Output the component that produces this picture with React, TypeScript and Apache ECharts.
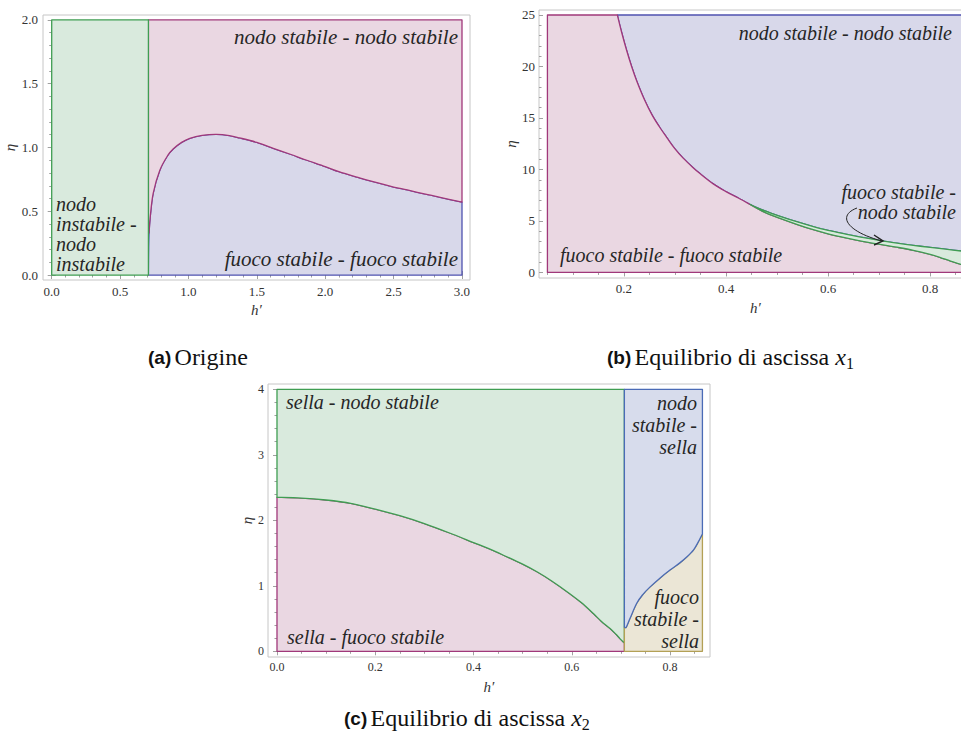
import React, { useEffect, useRef } from "react";
import * as echarts from "echarts";

// ---------- (a) Origine ----------
const H_CRIT = 0.7071;
const A_X_MAX = 3;
const A_Y_MAX = 2;
const A_curveX = [0.7071, 0.709, 0.712, 0.72, 0.742, 0.79, 0.85, 0.89, 0.95, 1.01, 1.1, 1.205, 1.3, 1.375, 1.5, 1.62, 1.75, 1.86, 2.0, 2.1, 2.25, 2.35, 2.5, 2.6, 2.75, 2.84, 3.0];
const A_curveY = [0, 0.2, 0.33, 0.45, 0.64, 0.82, 0.94, 0.99, 1.04, 1.072, 1.095, 1.103, 1.093, 1.075, 1.04, 0.994, 0.945, 0.902, 0.85, 0.81, 0.762, 0.732, 0.69, 0.667, 0.63, 0.609, 0.572];
const A_xTicks = [0, 0.5, 1, 1.5, 2, 2.5, 3];
const A_yTicks = [0, 0.5, 1, 1.5, 2];

// ---------- (b) Equilibrio x1 ----------
const B_X_MIN = 0.05;
const B_X_MAX = 0.866;
const B_Y_MAX = 25;
const B_topX = [0.187, 0.195, 0.205, 0.215, 0.225, 0.24, 0.255, 0.27, 0.284, 0.3, 0.316, 0.335, 0.349, 0.375, 0.4, 0.425, 0.447];
const B_topY = [25, 23.4, 21.6, 20.0, 18.6, 16.8, 15.3, 14.1, 13.1, 12.0, 11.1, 10.2, 9.6, 8.6, 7.85, 7.2, 6.6];
const B_upX = [0.447, 0.475, 0.506, 0.54, 0.571, 0.6, 0.637, 0.67, 0.702, 0.735, 0.767, 0.8, 0.83, 0.866];
const B_upY = [6.6, 6.0, 5.45, 4.9, 4.45, 4.08, 3.7, 3.38, 3.1, 2.85, 2.63, 2.43, 2.26, 2.05];
const B_loX = [0.447, 0.475, 0.506, 0.54, 0.571, 0.6, 0.637, 0.67, 0.702, 0.735, 0.767, 0.8, 0.82, 0.84, 0.866];
const B_loY = [6.6, 5.85, 5.25, 4.65, 4.15, 3.75, 3.33, 3.0, 2.72, 2.45, 2.15, 1.75, 1.45, 1.1, 0.7];
const B_xTicks = [0.2, 0.4, 0.6, 0.8];
const B_yTicks = [0, 5, 10, 15, 20, 25];

// ---------- (c) Equilibrio x2 ----------
const C_X_MAX = 0.866;
const C_Y_MAX = 4;
const C_gX = [0, 0.05, 0.1, 0.15, 0.2, 0.25, 0.3, 0.35, 0.4, 0.43, 0.46, 0.5, 0.53, 0.56, 0.596, 0.62, 0.644, 0.66, 0.678, 0.69, 0.698, 0.705, 0.7071];
const C_gY = [2.35, 2.34, 2.31, 2.26, 2.17, 2.07, 1.95, 1.81, 1.66, 1.57, 1.47, 1.33, 1.21, 1.07, 0.88, 0.74, 0.576, 0.46, 0.347, 0.26, 0.194, 0.143, 0.13];
const C_bX = [0.7071, 0.711, 0.7185, 0.732, 0.745, 0.759, 0.78, 0.8, 0.82, 0.834, 0.848, 0.8576, 0.8645, 0.866];
const C_bY = [0.37, 0.37, 0.5, 0.73, 0.87, 0.98, 1.12, 1.24, 1.35, 1.44, 1.55, 1.67, 1.77, 1.79];
const C_xTicks = [0, 0.2, 0.4, 0.6, 0.8];
const C_yTicks = [0, 1, 2, 3, 4];

// colours
const FILL_GREEN = "#d9eadd";
const FILL_PINK = "#ead7e2";
const FILL_BLUE = "#d8d8ea";
const FILL_BLUE_C = "#d7dcec";
const FILL_TAN = "#ebe6d6";
const LINE_GREEN = "#3f9d52";
const LINE_PINK = "#a0387a";
const LINE_BLUE = "#4f52b0";
const LINE_BLUE_C = "#4a6bb6";
const LINE_TAN = "#b3a055";

const SERIF = "Liberation Serif";
const SANS = "Liberation Sans";

type P = [number, number];
type Part = P | { curve: P[] };

const zip = (xs: number[], ys: number[]) => xs.map((x, i) => [x, ys[i]] as P);

function minorTicks(min: number, max: number, step: number, majors: number[]) {
  const out: number[] = [];
  const n = Math.round((max - min) / step);
  for (let i = 0; i <= n; i++) {
    const v = +(min + i * step).toFixed(4);
    if (!majors.some((m) => Math.abs(m - v) < 1e-6)) out.push(v);
  }
  return out;
}

function axesFor(
  g: number,
  dim: "x" | "y",
  min: number,
  max: number,
  major: number[],
  minor: number[],
  fmt: (v: number) => string,
  fontSize: number,
  margin: number,
  name: string,
  nameGap: number
) {
  const pos = dim === "x" ? ["bottom", "top"] : ["left", "right"];
  const base = {
    type: "value",
    gridIndex: g,
    min,
    max,
    splitLine: { show: false },
    axisLine: { show: false },
  };
  const tick = (vals: number[], len: number) => ({
    show: true,
    inside: true,
    length: len,
    customValues: vals,
    lineStyle: { color: "#a0a0a0", width: 1 },
  });
  return [
    {
      ...base,
      position: pos[0],
      axisTick: tick(major, 4),
      axisLabel: {
        show: true,
        customValues: major,
        formatter: fmt,
        fontSize,
        margin,
        color: "#333",
        fontFamily: SERIF,
      },
      name,
      nameLocation: "middle",
      nameGap,
      nameRotate: dim === "y" ? 90 : 0,
      nameTextStyle: { fontFamily: SERIF, fontStyle: "italic", fontSize: 15, color: "#333" },
    },
    { ...base, position: pos[0], axisTick: tick(minor, 2.5), axisLabel: { show: false } },
    { ...base, position: pos[1], axisTick: tick(major, 4), axisLabel: { show: false } },
    { ...base, position: pos[1], axisTick: tick(minor, 2.5), axisLabel: { show: false } },
  ];
}

// smooth curve (Catmull-Rom as cubic Bezier) through pixel points
function curvePath(px: number[][]) {
  let d = "";
  for (let i = 0; i < px.length - 1; i++) {
    const p0 = px[i - 1] || px[i];
    const p1 = px[i];
    const p2 = px[i + 1];
    const p3 = px[i + 2] || p2;
    const c1x = p1[0] + (p2[0] - p0[0]) / 6;
    const c1y = p1[1] + (p2[1] - p0[1]) / 6;
    const c2x = p2[0] - (p3[0] - p1[0]) / 6;
    const c2y = p2[1] - (p3[1] - p1[1]) / 6;
    d += ` C${c1x.toFixed(2)},${c1y.toFixed(2)} ${c2x.toFixed(2)},${c2y.toFixed(2)} ${p2[0].toFixed(2)},${p2[1].toFixed(2)}`;
  }
  return d;
}

function region(g: number, parts: Part[], fill: string, stroke: string) {
  const allPts: P[] = [];
  parts.forEach((p) => {
    if (Array.isArray(p)) allPts.push(p as P);
    else allPts.push(...p.curve);
  });
  return {
    type: "custom",
    xAxisIndex: g * 4,
    yAxisIndex: g * 4,
    silent: true,
    clip: true,
    data: allPts,
    renderItem: (params: any, api: any) => {
      if (params.dataIndex !== 0) return null;
      let d = "";
      let started = false;
      parts.forEach((p) => {
        if (Array.isArray(p)) {
          const c = api.coord(p);
          d += `${started ? " L" : "M"}${c[0].toFixed(2)},${c[1].toFixed(2)}`;
          started = true;
        } else {
          const px = p.curve.map((q) => api.coord(q));
          d += `${started ? " L" : "M"}${px[0][0].toFixed(2)},${px[0][1].toFixed(2)}`;
          started = true;
          d += curvePath(px);
        }
      });
      d += " Z";
      return {
        type: "path",
        shape: { pathData: d },
        style: { fill, stroke, lineWidth: 1.3, lineJoin: "round" },
      };
    },
  };
}

function label(text: string, x: number, y: number, align: string, size: number, lineHeight?: number, vAlign = "middle") {
  return {
    type: "text",
    x,
    y,
    silent: true,
    z: 100,
    style: {
      text,
      fill: "#262626",
      fontFamily: SERIF,
      fontStyle: "italic",
      fontSize: size,
      align,
      verticalAlign: vAlign,
      lineHeight: lineHeight || size,
    },
  };
}

function caption(letter: string, body: string, sub: string | null, x: number, y: number) {
  const text = sub ? `{b|(${letter})} {r|${body}}{m|x}{s|${sub}}` : `{b|(${letter})} {r|${body}}`;
  return {
    type: "text",
    x,
    y,
    silent: true,
    style: {
      text,
      verticalAlign: "middle",
      align: "left",
      rich: {
        b: { fontFamily: SANS, fontWeight: "bold", fontSize: 19, fill: "#111", lineHeight: 28, verticalAlign: "middle" },
        r: { fontFamily: SERIF, fontSize: 24, fill: "#111", lineHeight: 28, verticalAlign: "middle" },
        m: { fontFamily: SERIF, fontStyle: "italic", fontSize: 24, fill: "#111", lineHeight: 28, verticalAlign: "middle" },
        s: { fontFamily: SERIF, fontSize: 16, fill: "#111", lineHeight: 18, verticalAlign: "bottom" },
      },
    },
  };
}

export default function App() {
  const ref = useRef<HTMLDivElement>(null);
  useEffect(() => {
    if (!ref.current) return;
    const chart = echarts.init(ref.current, null, { renderer: "svg" });

    const aCurve = zip(A_curveX, A_curveY);
    const bTop = zip(B_topX, B_topY);
    const bUp = zip(B_upX, B_upY);
    const bLo = zip(B_loX, B_loY);
    const cG = zip(C_gX, C_gY);
    const cB = zip(C_bX, C_bY);

    const f1 = (v: number) => v.toFixed(1);
    const f0 = (v: number) => String(Math.round(v));

    const xAxes = [
      ...axesFor(0, "x", -0.0636, 3.0585, A_xTicks, minorTicks(0, 3, 0.1, A_xTicks), f1, 13, 5, "h\u2032", 22),
      ...axesFor(1, "x", 0.0335, 0.882, B_xTicks, minorTicks(0.05, 0.85, 0.05, B_xTicks), f1, 13, 4, "h\u2032", 22),
      ...axesFor(2, "x", -0.0183, 0.8814, C_xTicks, minorTicks(0, 0.85, 0.05, C_xTicks), f1, 12, 4, "h\u2032", 22),
    ];
    const yAxes = [
      ...axesFor(0, "y", -0.039, 2.039, A_yTicks, minorTicks(0, 2, 0.1, A_yTicks), f1, 13, 5, "\u03b7", 22),
      ...axesFor(1, "y", -0.54, 25.485, B_yTicks, minorTicks(0, 25, 1, B_yTicks), f0, 13, 4, "\u03b7", 19),
      ...axesFor(2, "y", -0.087, 4.081, C_yTicks, minorTicks(0, 4, 0.2, C_yTicks), f0, 12, 4, "\u03b7", 14),
    ];

    const gridStyle = { show: true, borderColor: "#c6c6c6", borderWidth: 1, backgroundColor: "transparent" };

    chart.setOption({
      animation: false,
      grid: [
        { ...gridStyle, left: 43, top: 15, width: 427, height: 265 },
        { ...gridStyle, left: 539, top: 10, width: 433, height: 268 },
        { ...gridStyle, left: 268, top: 384, width: 442, height: 273 },
      ],
      xAxis: xAxes,
      yAxis: yAxes,
      series: [
        // (a)
        region(0, [{ curve: aCurve }, [A_X_MAX, 0]], FILL_BLUE, LINE_BLUE),
        region(0, [[H_CRIT, A_curveY[2]], { curve: aCurve.slice(2) }, [A_X_MAX, A_Y_MAX], [H_CRIT, A_Y_MAX]], FILL_PINK, LINE_PINK),
        region(0, [[0, 0], [H_CRIT, 0], [H_CRIT, A_Y_MAX], [0, A_Y_MAX]], FILL_GREEN, LINE_GREEN),
        // (b)
        region(1, [{ curve: bTop }, { curve: bUp }, [B_X_MAX, B_Y_MAX]], FILL_BLUE, LINE_BLUE),
        region(1, [[B_X_MIN, 0], [B_X_MIN, B_Y_MAX], { curve: bTop }, { curve: bLo }, [B_X_MAX, 0]], FILL_PINK, LINE_PINK),
        region(1, [{ curve: bUp }, { curve: bLo.slice().reverse() }], FILL_GREEN, LINE_GREEN),
        // (c)
        region(2, [[0, 0], { curve: cG }, [H_CRIT, 0]], FILL_PINK, LINE_PINK),
        region(2, [{ curve: cG }, [H_CRIT, C_Y_MAX], [0, C_Y_MAX]], FILL_GREEN, LINE_GREEN),
        region(2, [[H_CRIT, 0], { curve: cB }, [C_X_MAX, 0]], FILL_TAN, LINE_TAN),
        region(2, [[H_CRIT, C_Y_MAX], { curve: cB }, [C_X_MAX, C_Y_MAX]], FILL_BLUE_C, LINE_BLUE_C),
      ],
      graphic: [
        // (a) labels
        label("nodo stabile - nodo stabile", 458, 37, "right", 21),
        label("fuoco stabile - fuoco stabile", 458, 259, "right", 21),
        label("nodo\ninstabile -\nnodo\ninstabile", 56, 194, "left", 20, 20, "top"),
        // (b) labels
        label("nodo stabile - nodo stabile", 952, 33, "right", 20),
        label("fuoco stabile - fuoco stabile", 560, 255, "left", 20),
        label("fuoco stabile -\nnodo stabile", 956, 182, "right", 20, 20, "top"),
        {
          type: "bezierCurve",
          silent: true,
          z: 100,
          shape: { x1: 857, y1: 208, cpx1: 836, cpy1: 216, cpx2: 848, cpy2: 232, x2: 882, y2: 241 },
          style: { stroke: "#222", lineWidth: 1, fill: null },
        },
        {
          type: "polyline",
          silent: true,
          z: 100,
          shape: { points: [[874, 235], [883, 241], [874, 245]] },
          style: { stroke: "#222", lineWidth: 1.4, fill: null },
        },
        // (c) labels
        label("sella - nodo stabile", 286, 402, "left", 20),
        label("sella - fuoco stabile", 287, 637, "left", 20),
        label("nodo\nstabile -\nsella", 697, 392, "right", 20, 22, "top"),
        label("fuoco\nstabile -\nsella", 699, 586, "right", 20, 22, "top"),
        // captions
        caption("a", "Origine", null, 148, 357),
        caption("b", "Equilibrio di ascissa ", "1", 607, 357),
        caption("c", "Equilibrio di ascissa ", "2", 344, 718),
      ],
    });
    return () => chart.dispose();
  }, []);
  return (
    <div style={{ position: "absolute", left: 0, top: 0, width: 961, height: 742, overflow: "hidden", background: "#fff" }}>
      <div ref={ref} style={{ position: "absolute", left: 0, top: 0, width: 990, height: 742 }} />
    </div>
  );
}
